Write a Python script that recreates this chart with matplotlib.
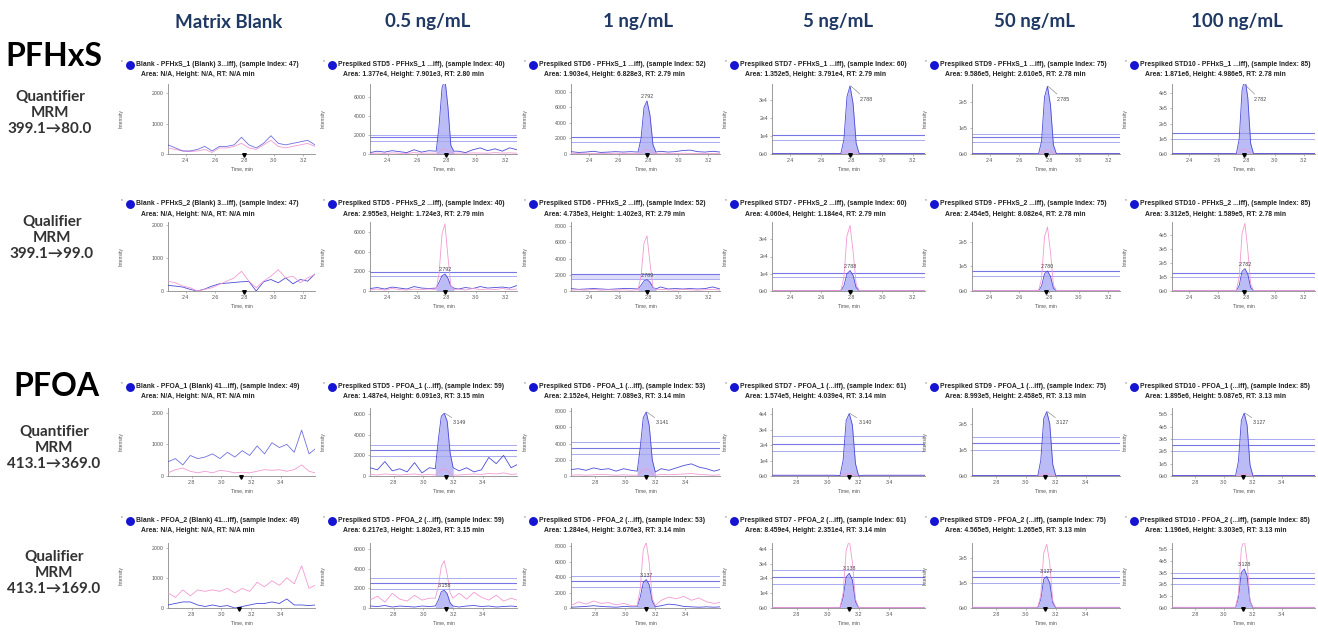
import numpy as np
import matplotlib
matplotlib.use("Agg")
import matplotlib.pyplot as plt
from matplotlib.lines import Line2D

plt.rcParams['font.family'] = ['Liberation Sans', 'DejaVu Sans']

# ---- labels ----
headers = ["Matrix Blank", "0.5 ng/mL", "1 ng/mL", "5 ng/mL", "50 ng/mL", "100 ng/mL"]
compounds = ["PFHxS", "PFOA"]
mrm_labels = [["Quantifier", "MRM", "399.1\u219280.0"],
              ["Qualifier", "MRM", "399.1\u219299.0"],
              ["Quantifier", "MRM", "413.1\u2192369.0"],
              ["Qualifier", "MRM", "413.1\u2192169.0"]]

# ---- time axes (min) ----
t_hxs = [2.28, 2.33, 2.38, 2.43, 2.48, 2.53, 2.58, 2.63, 2.68, 2.73, 2.78,
         2.83, 2.88, 2.93, 2.98, 3.03, 3.08, 3.13, 3.18, 3.23, 3.28]
t_hxs_pk = [2.73, 2.75, 2.77, 2.79, 2.81, 2.83, 2.85]
t_foa = [2.64, 2.69, 2.74, 2.79, 2.84, 2.89, 2.94, 2.99, 3.04, 3.09, 3.14,
         3.19, 3.24, 3.29, 3.34, 3.39, 3.44, 3.49, 3.54, 3.59, 3.63]
t_foa_pk = [3.08, 3.10, 3.12, 3.14, 3.16, 3.18, 3.20]

# ---- PFHxS quantifier 399.1 -> 80.0 ----
r0_title = ["Blank - PFHxS_1 (Blank) 3...iff), (sample Index: 47)",
            "Prespiked STD5 - PFHxS_1 ...iff), (sample Index: 40)",
            "Prespiked STD6 - PFHxS_1 ...iff), (sample Index: 52)",
            "Prespiked STD7 - PFHxS_1 ...iff), (sample Index: 60)",
            "Prespiked STD9 - PFHxS_1 ...iff), (sample Index: 75)",
            "Prespiked STD10 - PFHxS_1 ...iff), (sample Index: 85)"]
r0_sub = ["Area: N/A, Height: N/A, RT: N/A min",
          "Area: 1.377e4, Height: 7.901e3, RT: 2.80 min",
          "Area: 1.903e4, Height: 6.828e3, RT: 2.79 min",
          "Area: 1.352e5, Height: 3.791e4, RT: 2.79 min",
          "Area: 9.586e5, Height: 2.610e5, RT: 2.78 min",
          "Area: 1.871e6, Height: 4.986e5, RT: 2.78 min"]
r0_blue = [[300, 200, 100, 100, 150, 250, 100, 250, 250, 300, 550, 300, 200, 350, 600, 350, 300, 350, 400, 450, 300],
           [150, 300, 200, 350, 250, 150, 450, 200, 350, 250, 300, 200, 300, 150, 450, 650, 350, 550, 300, 650, 450],
           [300, 200, 250, 350, 200, 250, 300, 250, 300, 200, 250, 200, 350, 250, 300, 450, 500, 300, 250, 350, 250],
           [300] * 21, [1500] * 21, [3000] * 21]
r0_pink = [[200, 150, 100, 80, 100, 150, 50, 200, 200, 250, 350, 200, 150, 300, 450, 250, 200, 250, 300, 350, 250],
           [60, 100, 50, 120, 80, 60, 150, 80, 100, 60, 80, 60, 100, 80, 120, 100, 80, 150, 100, 120, 80],
           [80, 50, 100, 60, 80, 50, 100, 60, 80, 60, 80, 60, 100, 80, 60, 100, 80, 60, 80, 60, 80],
           [100] * 21, [800] * 21, [1500] * 21]
r0_blue_pk = [None, [300, 3000, 7000, 7900, 5000, 900, 300], [250, 2000, 6000, 6828, 5000, 1200, 250],
              [200, 8000, 32000, 37910, 28000, 6000, 200], [1000, 5e4, 2.2e5, 2.61e5, 1.9e5, 3.5e4, 1000],
              [2000, 1e5, 4.2e5, 4.986e5, 3.7e5, 7e4, 2000]]
r0_pink_pk = [None, [80, 200, 450, 500, 350, 150, 80], [60, 200, 480, 550, 400, 150, 60],
              [100, 700, 1800, 2000, 1500, 500, 100], [500, 4000, 1.4e4, 1.6e4, 1.1e4, 3000, 500],
              [1000, 8000, 2.6e4, 3e4, 2.1e4, 6000, 1000]]
r0_ymax = [2300, 7400, 9000, 3.9e4, 2.7e5, 4.6e5]
r0_yticks = [[0, 1000, 2000], [0, 2000, 4000, 6000], [0, 2000, 4000, 6000, 8000],
             [0, 1e4, 2e4, 3e4], [0, 1e5, 2e5], [0, 1e5, 2e5, 3e5, 4e5]]
r0_hlines = [[], [1400, 1750, 2050], [1500, 2200], [0.78e4, 1.05e4], [0.47e5, 0.65e5, 0.76e5], [1.0e5, 1.35e5]]
r0_rt = [2.80, 2.80, 2.79, 2.79, 2.78, 2.78]
r0_label = [None, None, "2.792", "2.788", "2.785", "2.782"]

# ---- PFHxS qualifier 399.1 -> 99.0 ----
r1_title = ["Blank - PFHxS_2 (Blank) 3...iff), (sample Index: 47)",
            "Prespiked STD5 - PFHxS_2 ...iff), (sample Index: 40)",
            "Prespiked STD6 - PFHxS_2 ...iff), (sample Index: 52)",
            "Prespiked STD7 - PFHxS_2 ...iff), (sample Index: 60)",
            "Prespiked STD9 - PFHxS_2 ...iff), (sample Index: 75)",
            "Prespiked STD10 - PFHxS_2 ...iff), (sample Index: 85)"]
r1_sub = ["Area: N/A, Height: N/A, RT: N/A min",
          "Area: 2.955e3, Height: 1.724e3, RT: 2.79 min",
          "Area: 4.735e3, Height: 1.402e3, RT: 2.79 min",
          "Area: 4.060e4, Height: 1.184e4, RT: 2.79 min",
          "Area: 2.454e5, Height: 8.082e4, RT: 2.78 min",
          "Area: 3.312e5, Height: 1.589e5, RT: 2.78 min"]
r1_blue = [[170, 150, 120, 50, 0, 60, 150, 220, 240, 260, 280, 290, 0, 280, 350, 250, 400, 220, 350, 300, 520],
           [250, 350, 200, 400, 300, 200, 450, 300, 250, 350, 300, 250, 200, 350, 250, 450, 300, 350, 400, 300, 550],
           [300, 200, 250, 300, 250, 200, 250, 300, 300, 200, 250, 200, 500, 250, 300, 250, 300, 250, 300, 500, 250],
           [200] * 21, [1000] * 21, [2000] * 21]
r1_pink = [[300, 250, 150, 100, 0, 50, 100, 200, 300, 400, 600, 300, 100, 300, 450, 650, 400, 450, 250, 400, 500],
           [150, 200, 100, 250, 150, 100, 200, 150, 200, 150, 200, 150, 200, 100, 250, 150, 200, 150, 250, 150, 200],
           [100, 150, 100, 200, 100, 150, 100, 150, 100, 150, 100, 150, 200, 150, 100, 200, 150, 100, 150, 200, 100],
           [300] * 21, [2000] * 21, [4000] * 21]
r1_blue_pk = [None, [300, 900, 1550, 1724, 1300, 500, 300], [250, 700, 1250, 1402, 1100, 450, 250],
              [200, 3000, 10000, 11840, 9000, 2000, 200], [1000, 2e4, 7e4, 8.08e4, 6e4, 1.2e4, 1000],
              [2000, 4e4, 1.4e5, 1.59e5, 1.2e5, 2.5e4, 2000]]
r1_pink_pk = [None, [150, 1800, 5800, 6800, 3500, 500, 150], [150, 1800, 5900, 6800, 3500, 500, 150],
              [300, 8000, 3.2e4, 3.8e4, 2.3e4, 4000, 300], [2000, 5e4, 2.2e5, 2.6e5, 1.6e5, 2.5e4, 2000],
              [4000, 1e5, 4.1e5, 4.8e5, 2.9e5, 5e4, 4000]]
r1_ymax = [2100, 7000, 8500, 4.0e4, 2.8e5, 4.9e5]
r1_yticks = r0_yticks
r1_hlines = [[], [1500, 1900], [1500, 2100], [0.8e4, 1.07e4], [0.6e5, 0.8e5], [1.0e5, 1.25e5]]
r1_rt = [2.80, 2.79, 2.79, 2.79, 2.78, 2.78]
r1_label = [None, "2.792", "2.789", "2.788", "2.780", "2.782"]

# ---- PFOA quantifier 413.1 -> 369.0 ----
r2_title = ["Blank - PFOA_1 (Blank) 41...iff), (sample Index: 49)",
            "Prespiked STD5 - PFOA_1 (...iff), (sample Index: 59)",
            "Prespiked STD6 - PFOA_1 (...iff), (sample Index: 53)",
            "Prespiked STD7 - PFOA_1 (...iff), (sample Index: 61)",
            "Prespiked STD9 - PFOA_1 (...iff), (sample Index: 75)",
            "Prespiked STD10 - PFOA_1 (...iff), (sample Index: 85)"]
r2_sub = ["Area: N/A, Height: N/A, RT: N/A min",
          "Area: 1.487e4, Height: 6.091e3, RT: 3.15 min",
          "Area: 2.152e4, Height: 7.089e3, RT: 3.14 min",
          "Area: 1.574e5, Height: 4.039e4, RT: 3.14 min",
          "Area: 8.993e5, Height: 2.458e5, RT: 3.13 min",
          "Area: 1.895e6, Height: 5.087e5, RT: 3.13 min"]
r2_blue = [[450, 550, 350, 650, 550, 600, 700, 550, 750, 600, 800, 650, 950, 700, 1050, 900, 1000, 750, 1450, 700, 850],
           [800, 600, 1400, 500, 700, 400, 1300, 300, 800, 600, 700, 1000, 500, 800, 400, 600, 1800, 1200, 2000, 800, 1100],
           [800, 900, 700, 1000, 800, 900, 600, 900, 700, 800, 700, 600, 900, 700, 1000, 1300, 1500, 1100, 900, 600, 800],
           [500] * 21, [2000] * 21, [4000] * 21]
r2_pink = [[100, 200, 250, 150, 100, 150, 100, 180, 150, 100, 120, 100, 150, 200, 180, 200, 150, 200, 350, 150, 100],
           [150, 100, 200, 150, 100, 150, 200, 100, 150, 100, 150, 200, 100, 150, 200, 150, 250, 200, 300, 150, 200],
           [100, 150, 100, 150, 200, 150, 100, 150, 100, 150, 100, 150, 200, 150, 200, 250, 300, 200, 150, 100, 150],
           [200] * 21, [1000] * 21, [2000] * 21]
r2_blue_pk = [None, [700, 3500, 5800, 6091, 5300, 2200, 800], [600, 3500, 7200, 7900, 6200, 2000, 500],
              [300, 1e4, 3.6e4, 4.04e4, 3.3e4, 8000, 300], [1000, 6e4, 2.2e5, 2.46e5, 2e5, 4.5e4, 1000],
              [2000, 1.2e5, 4.5e5, 5.09e5, 4.1e5, 9e4, 2000]]
r2_pink_pk = [None, [100, 350, 650, 700, 550, 250, 100], [100, 400, 800, 900, 700, 250, 100],
              [100, 700, 1400, 1500, 1200, 400, 100], [500, 3000, 7000, 8000, 6000, 2000, 500],
              [1000, 5000, 1.4e4, 1.6e4, 1.2e4, 4000, 1000]]
r2_ymax = [2150, 6600, 8400, 4.4e4, 2.6e5, 5.5e5]
r2_yticks = [[0, 1000, 2000], [0, 2000, 4000, 6000], [0, 2000, 4000, 6000, 8000],
             [0, 1e4, 2e4, 3e4, 4e4], [0, 1e5, 2e5], [0, 1e5, 2e5, 3e5, 4e5, 5e5]]
r2_hlines = [[], [1900, 2500, 3000], [2700, 3500, 4200], [1.6e4, 2.1e4, 2.6e4],
             [1.0e5, 1.25e5, 1.5e5], [2.0e5, 2.5e5, 3.0e5]]
r2_rt = [3.13, 3.15, 3.14, 3.14, 3.13, 3.13]
r2_label = [None, "3.149", "3.141", "3.140", "3.127", "3.127"]

# ---- PFOA qualifier 413.1 -> 169.0 ----
r3_title = ["Blank - PFOA_2 (Blank) 41...iff), (sample Index: 49)",
            "Prespiked STD5 - PFOA_2 (...iff), (sample Index: 59)",
            "Prespiked STD6 - PFOA_2 (...iff), (sample Index: 53)",
            "Prespiked STD7 - PFOA_2 (...iff), (sample Index: 61)",
            "Prespiked STD9 - PFOA_2 (...iff), (sample Index: 75)",
            "Prespiked STD10 - PFOA_2 (...iff), (sample Index: 85)"]
r3_sub = ["Area: N/A, Height: N/A, RT: N/A min",
          "Area: 6.217e3, Height: 1.802e3, RT: 3.15 min",
          "Area: 1.284e4, Height: 3.676e3, RT: 3.14 min",
          "Area: 8.459e4, Height: 2.351e4, RT: 3.14 min",
          "Area: 4.565e5, Height: 1.265e5, RT: 3.13 min",
          "Area: 1.196e6, Height: 3.303e5, RT: 3.13 min"]
r3_blue = [[100, 150, 200, 200, 100, 50, 100, 50, 80, 0, 50, 100, 150, 150, 200, 150, 300, 100, 100, 80, 100],
           [200, 150, 250, 100, 200, 150, 100, 200, 150, 100, 150, 150, 100, 200, 250, 150, 200, 100, 150, 200, 150],
           [100, 150, 200, 300, 200, 150, 100, 200, 150, 100, 150, 200, 300, 500, 400, 200, 150, 100, 150, 100, 150],
           [200] * 21, [1000] * 21, [2000] * 21]
r3_pink = [[500, 350, 600, 400, 600, 550, 600, 550, 650, 500, 650, 550, 850, 700, 900, 750, 1000, 800, 1400, 650, 750],
           [800, 1200, 600, 1500, 900, 700, 1300, 800, 1000, 600, 1000, 1200, 1500, 900, 1600, 1100, 800, 1300, 700, 1000, 800],
           [300, 800, 500, 900, 600, 700, 400, 600, 300, 500, 300, 400, 1000, 1400, 1200, 1500, 1000, 1300, 800, 600, 700],
           [400] * 21, [3000] * 21, [6000] * 21]
r3_blue_pk = [None, [200, 800, 1650, 1802, 1450, 500, 200], [150, 1400, 3300, 3676, 3000, 900, 150],
              [200, 7000, 2.1e4, 2.35e4, 1.9e4, 4500, 200], [1000, 3.5e4, 1.15e5, 1.265e5, 1e5, 2.2e4, 1000],
              [2000, 9e4, 3e5, 3.3e5, 2.7e5, 6e4, 2000]]
r3_pink_pk = [None, [1000, 2200, 4200, 4800, 3400, 1500, 1000], [300, 2500, 7500, 8500, 5800, 1200, 300],
              [400, 1e4, 3.9e4, 4.6e4, 3.1e4, 6000, 400], [3000, 5e4, 2.2e5, 2.55e5, 1.8e5, 3e4, 3000],
              [6000, 1.2e5, 5e5, 5.8e5, 4e5, 6e4, 6000]]
r3_ymax = r2_ymax
r3_yticks = r2_yticks
r3_hlines = r2_hlines
r3_rt = [3.12, 3.15, 3.14, 3.14, 3.13, 3.13]
r3_label = [None, "3.158", "3.137", "3.138", "3.127", "3.128"]

rows = [
    dict(title=r0_title, sub=r0_sub, blue=r0_blue, pink=r0_pink, bpk=r0_blue_pk, ppk=r0_pink_pk,
         ymax=r0_ymax, yticks=r0_yticks, hl=r0_hlines, rt=r0_rt, lab=r0_label, qual=False),
    dict(title=r1_title, sub=r1_sub, blue=r1_blue, pink=r1_pink, bpk=r1_blue_pk, ppk=r1_pink_pk,
         ymax=r1_ymax, yticks=r1_yticks, hl=r1_hlines, rt=r1_rt, lab=r1_label, qual=True),
    dict(title=r2_title, sub=r2_sub, blue=r2_blue, pink=r2_pink, bpk=r2_blue_pk, ppk=r2_pink_pk,
         ymax=r2_ymax, yticks=r2_yticks, hl=r2_hlines, rt=r2_rt, lab=r2_label, qual=False),
    dict(title=r3_title, sub=r3_sub, blue=r3_blue, pink=r3_pink, bpk=r3_blue_pk, ppk=r3_pink_pk,
         ymax=r3_ymax, yticks=r3_yticks, hl=r3_hlines, rt=r3_rt, lab=r3_label, qual=True),
]

# ---- layout in pixels ----
W, H = 1318, 632
col_px = [(168, 315), (370, 517), (571, 720), (772, 925), (972, 1120), (1172, 1315)]
row_px = [(84, 154), (222, 291), (408, 476), (543, 608)]
title_px = [(65, 75), (204, 214), (387, 397), (521, 531)]
header_x = [229, 428, 638, 838, 1035, 1237]
compound_pos = [(54, 56), (56, 386)]
mrm_pos = [(50, 97), (52, 222), (54, 432), (54, 557)]

BLUE = '#4b4bd8'
PINK = '#f19ad3'
FILL = '#a4a4f2'
NAVY = '#1f3864'


def fx(px):
    return px / W


def fy(py):
    return 1 - py / H


def merge(t, y, tp, yp):
    t = np.asarray(t); y = np.asarray(y, float)
    keep = (t < tp[0]) | (t > tp[-1])
    tt = np.concatenate([t[keep], tp])
    yy = np.concatenate([y[keep], yp])
    o = np.argsort(tt)
    return tt[o], yy[o]


def ytick_text(v, big):
    if not big:
        return f"{int(v)}"
    if v == 0:
        return "0e0"
    e = int(np.floor(np.log10(v)))
    return f"{v / 10 ** e:.0f}e{e}"


fig = plt.figure(figsize=(W / 100, H / 100), dpi=100)

for i, name in enumerate(headers):
    fig.text(fx(header_x[i]), fy(22), name, ha='center', va='center', fontsize=13.5,
             fontweight='bold', color=NAVY, family=['Lato', 'DejaVu Sans'])

for i, name in enumerate(compounds):
    x, y = compound_pos[i]
    fig.text(fx(x), fy(y), name, ha='center', va='center', fontsize=23,
             fontweight='bold', color='black', family=['Lato', 'DejaVu Sans'])

for i, lines in enumerate(mrm_labels):
    x, y = mrm_pos[i]
    for k, s in enumerate(lines):
        fig.text(fx(x), fy(y + 16 * k), s, ha='center', va='center', fontsize=11,
                 fontweight='bold', color='#333333', family=['Lato', 'DejaVu Sans'])

for r, row in enumerate(rows):
    pfhxs = r < 2
    t = t_hxs if pfhxs else t_foa
    tp = np.array(t_hxs_pk if pfhxs else t_foa_pk)
    xlim = (2.28, 3.28) if pfhxs else (2.64, 3.63)
    xt = [2.4, 2.6, 2.8, 3.0, 3.2] if pfhxs else [2.8, 3.0, 3.2, 3.4]
    top, bot = row_px[r]
    for c in range(6):
        left, right = col_px[c]
        ax = fig.add_axes([fx(left), fy(bot), (right - left) / W, (bot - top) / H])
        ymax = row['ymax'][c]
        blank = row['bpk'][c] is None

        # traces
        if blank:
            tb, yb = np.asarray(t), np.asarray(row['blue'][c], float)
            tq, yq = np.asarray(t), np.asarray(row['pink'][c], float)
        else:
            tb, yb = merge(t, row['blue'][c], tp, row['bpk'][c])
            tq, yq = merge(t, row['pink'][c], tp, row['ppk'][c])

        for h_i, h in enumerate(row['hl'][c]):
            dark = h_i == 1
            ax.axhline(h, color='#7676e4' if dark else '#aaaaf0', lw=0.8 if dark else 0.7, zorder=1)
        if r == 1 and c == 2:
            ax.axhspan(row['hl'][c][0], row['hl'][c][1], color='#c8c8f6', alpha=0.6, lw=0, zorder=0)

        if not blank:
            ax.fill_between(tp, 0, row['bpk'][c], color=FILL, alpha=0.75, lw=0, zorder=2)
            ax.plot([tp[0], tp[-1]], [0, 0], color='#e0407a', lw=0.6, zorder=3)

        if row['qual']:
            ax.plot(tb, yb, color=BLUE, lw=0.6, zorder=3)
            ax.plot(tq, yq, color=PINK, lw=0.6, zorder=4)
        else:
            ax.plot(tq, yq, color=PINK, lw=0.6, zorder=3)
            ax.plot(tb, yb, color=BLUE, lw=0.6, zorder=4, alpha=0.8 if blank else 1)

        # RT label
        lab = row['lab'][c]
        if lab is not None:
            hpk = max(row['bpk'][c])
            tpk = tp[int(np.argmax(row['bpk'][c]))]
            if row['qual'] or (r == 0 and c == 2):
                ax.text(tpk, hpk + 0.03 * ymax, lab, ha='center', va='bottom', fontsize=3.8,
                        color='#444444', zorder=6)
            else:
                hc = min(hpk, ymax * 0.98)
                ax.annotate(lab, xy=(tpk + 0.005, hc), xytext=(tpk + 0.06, 0.78 * ymax),
                            fontsize=3.8, color='#444444', va='center', ha='left',
                            arrowprops=dict(arrowstyle='-', color='#777777', lw=0.4,
                                            shrinkA=0, shrinkB=0), zorder=6)

        # retention-time marker
        ax.plot([row['rt'][c]], [-0.02], marker='v', ms=2.6, color='black',
                transform=ax.get_xaxis_transform(), clip_on=False, zorder=7)

        ax.set_xlim(*xlim)
        ax.set_ylim(0, ymax)
        ax.set_xticks(xt, [f"{v:.1f}" for v in xt])
        big = row['yticks'][c][-1] >= 10000
        ax.set_yticks(row['yticks'][c], [ytick_text(v, big) for v in row['yticks'][c]])
        ax.tick_params(labelsize=3.8, length=1.5, width=0.4, colors='#888888',
                       labelcolor='#555555', pad=1.5)
        for s in ['top', 'right']:
            ax.spines[s].set_visible(False)
        for s in ['left', 'bottom']:
            ax.spines[s].set_color('#8a8a8a')
            ax.spines[s].set_linewidth(0.6)
        ax.set_xlabel("Time, min", fontsize=3.6, color='#555555', labelpad=2)
        ax.set_ylabel("Intensity", fontsize=3.6, color='#555555')
        ax.yaxis.set_label_coords(-44 / (right - left), 0.5)

        # panel title with sample dot
        ty1, ty2 = title_px[r]
        fig.add_artist(Line2D([fx(left - 38)], [fy(ty1)], marker='o', ms=5.4, color='#1414d2',
                              transform=fig.transFigure))
        fig.text(fx(left - 46), fy(ty1 - 3), '*', fontsize=3.5, color='#666666', ha='center', va='center')
        fig.text(fx(left - 32), fy(ty1), row['title'][c], fontsize=4.9, fontweight='bold',
                 color='#222222', va='center', ha='left')
        fig.text(fx(left - 27), fy(ty2), row['sub'][c], fontsize=4.9, fontweight='bold',
                 color='#222222', va='center', ha='left')

fig.savefig("out.png", dpi=100)
